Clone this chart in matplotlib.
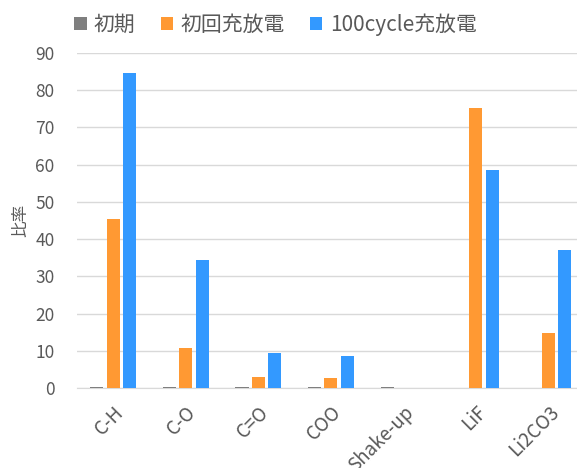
import matplotlib
matplotlib.use("Agg")
import matplotlib.pyplot as plt
import numpy as np

plt.rcParams['font.family'] = ['Noto Sans CJK JP', 'DejaVu Sans']

categories = ["C-H", "C-O", "C=O", "COO", "Shake-up", "LiF", "Li2CO3"]
series_names = ["初期", "初回充放電", "100cycle充放電"]
initial = [0.3, 0.3, 0.3, 0.3, 0.3, 0, 0]
first_cycle = [45.5, 10.7, 3.0, 2.8, 0, 75.2, 14.7]
cycle100 = [84.5, 34.5, 9.5, 8.6, 0, 58.5, 37.0]
colors = ["#7f7f7f", "#ff9933", "#3399ff"]
yticks = [0, 10, 20, 30, 40, 50, 60, 70, 80, 90]

fig = plt.figure(figsize=(5.77, 4.68), dpi=100)
ax = fig.add_axes([0.1334, 0.171, 0.88, 0.716])

x = np.arange(len(categories))
w = 0.18
step = 0.225
for i, (vals, c, name) in enumerate(zip([initial, first_cycle, cycle100], colors, series_names)):
    ax.bar(x + (i - 1) * step, vals, width=w, color=c, label=name, zorder=3)

ax.set_xlim(-0.5, len(categories) - 0.5)
ax.set_ylim(0, 90)
ax.set_yticks(yticks)
ax.yaxis.grid(True, color="#d9d9d9", linewidth=1, zorder=0)
ax.set_axisbelow(True)
for s in ["top", "right", "left"]:
    ax.spines[s].set_visible(False)
ax.spines["bottom"].set_color("#d9d9d9")
ax.tick_params(axis="both", length=0, colors="#595959")
ax.tick_params(axis="y", pad=16, labelsize=12.5)
ax.set_xticks(x)
ax.set_xticklabels(categories, rotation=45, ha="right", rotation_mode="anchor")
ax.tick_params(axis="x", pad=10, labelsize=13.5)
ax.set_ylabel("比率", color="#595959", fontsize=12, labelpad=4)

leg = ax.legend(loc="lower left", bbox_to_anchor=(-0.022, 1.025), ncol=3, frameon=False,
                fontsize=15, handlelength=0.6, handleheight=0.6, handletextpad=0.35,
                columnspacing=1.2, borderaxespad=0)
for t in leg.get_texts():
    t.set_color("#595959")

fig.savefig("out.png", dpi=100)
